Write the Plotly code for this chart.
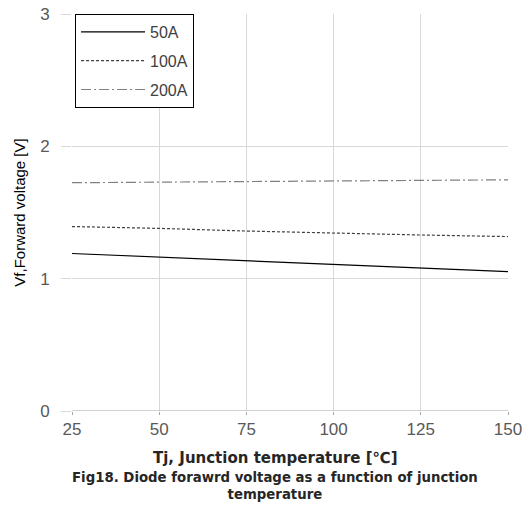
import plotly.graph_objects as go

# Junction temperature points (°C)
tj = [25, 50, 75, 100, 125, 150]

# Forward voltage (V) for each current
vf_50a = [1.19, 1.163, 1.136, 1.106, 1.078, 1.053]
vf_100a = [1.394, 1.38, 1.36, 1.343, 1.33, 1.318]
vf_200a = [1.725, 1.73, 1.735, 1.74, 1.744, 1.747]

series_names = ["50A", "100A", "200A"]
x_ticks = [25, 50, 75, 100, 125, 150]
y_ticks = [0, 1, 2, 3]

fig = go.Figure()
styles = [
    dict(color="#000000", dash="solid"),
    dict(color="#404040", dash="3px,2px"),
    dict(color="#808080", dash="10px,3px,2px,3px"),
]
for name, vals, st in zip(series_names, [vf_50a, vf_100a, vf_200a], styles):
    fig.add_trace(go.Scatter(
        x=tj, y=vals, mode="lines", name=name, legendgroup=name,
        line=dict(color=st["color"], dash=st["dash"], width=1.2),
    ))

fig.update_layout(
    width=529, height=505,
    margin=dict(l=72, r=21, t=14, b=94, autoexpand=False),
    paper_bgcolor="white", plot_bgcolor="white",
    showlegend=True,
    legend=dict(
        x=0.007, y=1.0, xanchor="left", yanchor="top",
        bgcolor="white", bordercolor="#000000", borderwidth=1,
        font=dict(family="Liberation Sans, Arial, sans-serif", size=16, color="#404040"),
        itemwidth=64, traceorder="grouped", tracegroupgap=5,
    ),
    font=dict(family="Liberation Sans, Arial, sans-serif"),
)

fig.update_xaxes(
    range=[25, 150], tickvals=x_ticks, ticktext=[str(v) for v in x_ticks],
    showgrid=True, gridcolor="#d9d9d9", gridwidth=1,
    ticks="outside", ticklen=3, tickcolor="#a6a6a6",
    showline=False, zeroline=False, automargin=False,
    tickfont=dict(size=17, color="#595959"),
    title=None,
)
fig.update_yaxes(
    range=[0, 3], tickvals=y_ticks, ticktext=[str(v) for v in y_ticks],
    showgrid=True, gridcolor="#d9d9d9", gridwidth=1,
    ticks="outside", ticklen=10, tickcolor="#d9d9d9",
    showline=False, zeroline=False, automargin=False,
    ticklabelstandoff=8,
    tickfont=dict(size=17, color="#595959"),
    title=dict(text="Vf,Forward voltage [V]", standoff=10,
               font=dict(family="Liberation Sans Narrow, Liberation Sans, Arial", size=15, color="#000000")),
)

# Baseline along the bottom of the plot
fig.add_shape(type="line", xref="x", yref="y", x0=25, x1=150, y0=0, y1=0,
              line=dict(color="#a6a6a6", width=1.2))

fig.add_annotation(
    text="<b>Tj, Junction temperature [℃]</b>",
    xref="paper", yref="paper", x=0.466, y=-0.118, xanchor="center", yanchor="middle",
    showarrow=False, font=dict(family="DejaVu Sans", size=15, color="#262626"),
)
fig.add_annotation(
    text="Fig18. Diode forawrd voltage as a function of junction<br>temperature",
    xref="paper", yref="paper", x=0.466, y=-0.19, xanchor="center", yanchor="middle",
    showarrow=False, font=dict(family="DejaVu Sans", size=13.3, color="#262626", weight=600),
    align="center",
)

fig.write_html("out.html")
